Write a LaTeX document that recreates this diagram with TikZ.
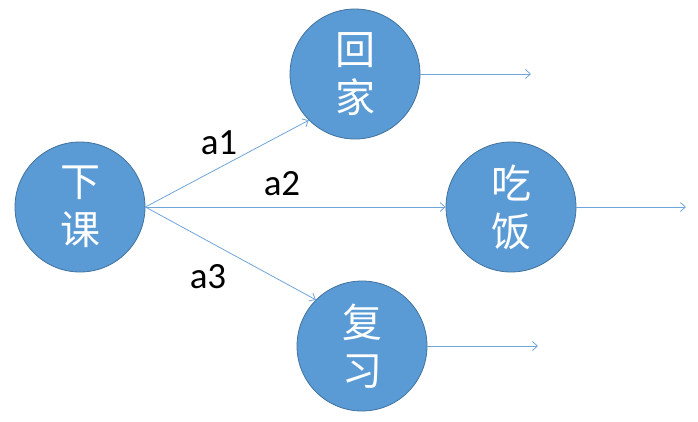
\documentclass[tikz,border=0pt]{standalone}
\usepackage{fontspec}
\setmainfont{Carlito}
\newfontfamily\cjk{Noto Sans CJK SC}
\usetikzlibrary{arrows.meta}
\definecolor{nodefill}{HTML}{5B9BD5}
\definecolor{nodeline}{HTML}{41719C}
\definecolor{edgeblue}{HTML}{6FA5DA}
\begin{document}
\begin{tikzpicture}[x=1pt,y=-1pt,
  state/.style={circle,fill=nodefill,draw=nodeline,line width=0.8pt,
    minimum size=130pt,inner sep=0pt,text=white,align=center,
    font=\cjk\fontsize{40}{48}\selectfont},
  edge/.style={draw=edgeblue,line width=0.8pt,
    -{Straight Barb[length=5pt,width=9pt,line width=0.8pt]}},
  lab/.style={font=\fontsize{37}{40}\selectfont,text=black,inner sep=0pt}]
  \useasboundingbox (0,0) rectangle (698,421);
  % states
  \node[state] (xk) at (80,207) {下\\课};
  \node[state] (hj) at (355,74) {回\\家};
  \node[state] (cf) at (511,207) {吃\\饭};
  \node[state] (fx) at (362,346) {复\\习};
  % free ends of the outgoing arrows
  \coordinate (hjout) at (531,74);
  \coordinate (cfout) at (686,207);
  \coordinate (fxout) at (538,346);
  % transitions
  \draw[edge] (xk.east) -- (hj.225);
  \draw[edge] (xk.east) -- (cf.west);
  \draw[edge] (xk.east) -- (fx.135);
  \draw[edge] (hj.east) -- (hjout);
  \draw[edge] (cf.east) -- (cfout);
  \draw[edge] (fx.east) -- (fxout);
  % action labels
  \node[lab] (a1) at (219,143) {a1};
  \node[lab] (a2) at (282,184) {a2};
  \node[lab] (a3) at (208,277) {a3};
\end{tikzpicture}
\end{document}
